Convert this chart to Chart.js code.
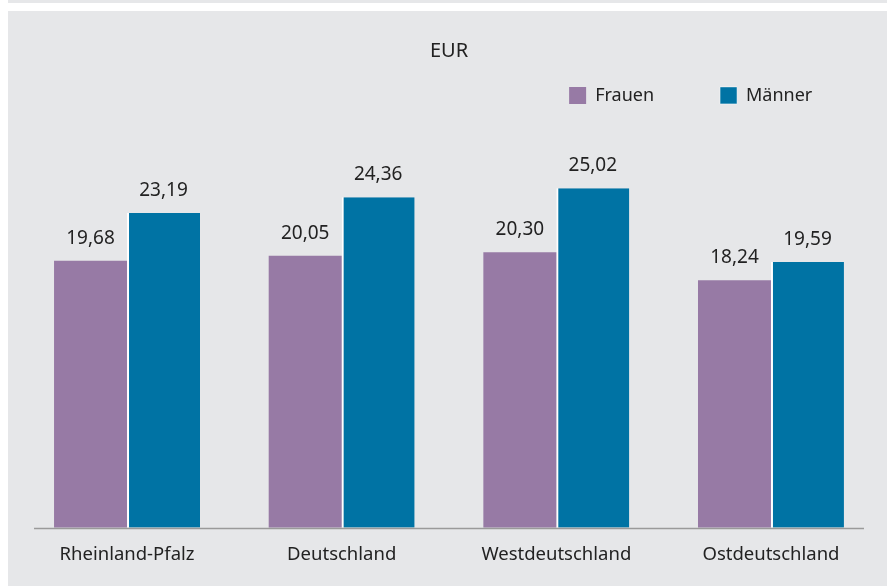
<!DOCTYPE html>
<html>
<head>
<meta charset="utf-8">
<script src="https://cdn.jsdelivr.net/npm/chart.js@4"></script>
<style>
  html, body { margin: 0; padding: 0; background: #fff; }
  #strip { position: absolute; left: 8px; top: 0; width: 879px; height: 3px; background: #e6e7e9; }
  #box { position: absolute; left: 8px; top: 11px; width: 879px; height: 575px; background: #e6e7e9; }
</style>
</head>
<body>
<div id="strip"></div>
<div id="box"><canvas id="chart1"></canvas></div>
<script>
var regionen = ['Rheinland-Pfalz', 'Deutschland', 'Westdeutschland', 'Ostdeutschland'];
var frauen = [19.68, 20.05, 20.30, 18.24];
var maenner = [23.19, 24.36, 25.02, 19.59];

var fontFamily = '"Noto Sans", sans-serif';
var textColor = '#222';

// Legende höher setzen (die großen Abstände zwischen den Einträgen kommen über labels.padding)
var legendShift = {
    id: 'legendShift',
    afterLayout: function(chart) {
        chart.legend.top -= 47;
        chart.legend.bottom -= 47;
    }
};

// Werte über den Balken + Grundlinie
var valueLabels = {
    id: 'valueLabels',
    afterDatasetsDraw: function(chart) {
        var ctx = chart.ctx;
        ctx.save();
        ctx.font = '19px ' + fontFamily;
        ctx.fillStyle = textColor;
        ctx.textAlign = 'center';
        ctx.textBaseline = 'alphabetic';
        chart.data.datasets.forEach(function(ds, i) {
            chart.getDatasetMeta(i).data.forEach(function(bar, j) {
                ctx.fillText(ds.data[j].toFixed(2).replace('.', ','), bar.x, bar.y - 17);
            });
        });
        var x = chart.scales.x, y = chart.scales.y;
        var y0 = Math.round(y.getPixelForValue(0)) + 0.5;
        ctx.strokeStyle = '#9a9a9a';
        ctx.lineWidth = 1.5;
        ctx.beginPath();
        ctx.moveTo(x.getPixelForValue(0) - 93, y0);
        ctx.lineTo(x.getPixelForValue(regionen.length - 1) + 93, y0);
        ctx.stroke();
        ctx.restore();
    }
};

var ctx1 = document.getElementById('chart1').getContext('2d');
new Chart(ctx1, {
    type: 'bar',
    plugins: [legendShift, valueLabels],
    data: {
        labels: regionen,
        datasets: [{
            label: 'Frauen',
            data: frauen,
            backgroundColor: '#977aa5',
            borderWidth: 0
        }, {
            label: 'Männer',
            data: maenner,
            backgroundColor: '#0073a4',
            borderColor: '#ffffff',
            borderWidth: { left: 2, top: 0, right: 0, bottom: 0 }
        }]
    },
    options: {
        responsive: true,
        maintainAspectRatio: false,
        devicePixelRatio: 1,
        animation: false,
        categoryPercentage: 0.68,
        barPercentage: 1,
        layout: { padding: { top: 0, left: 11.7, right: 8.7, bottom: 4 } },
        plugins: {
            tooltip: { enabled: false },
            legend: {
                position: 'top',
                align: 'end',
                labels: {
                    boxWidth: 17,
                    boxHeight: 17,
                    padding: 66,
                    color: textColor,
                    font: { family: fontFamily, size: 18 }
                }
            },
            title: {
                display: true,
                text: 'EUR',
                color: textColor,
                font: { family: fontFamily, size: 20, weight: 'normal' },
                padding: { top: 28, bottom: 4.4 }
            }
        },
        scales: {
            x: {
                grid: { display: false, drawTicks: false },
                border: { display: false },
                ticks: {
                    color: textColor,
                    padding: 16,
                    font: { family: fontFamily, size: 18.5 }
                }
            },
            y: {
                display: false,
                min: 0,
                max: 27
            }
        }
    }
});
</script>
</body>
</html>
